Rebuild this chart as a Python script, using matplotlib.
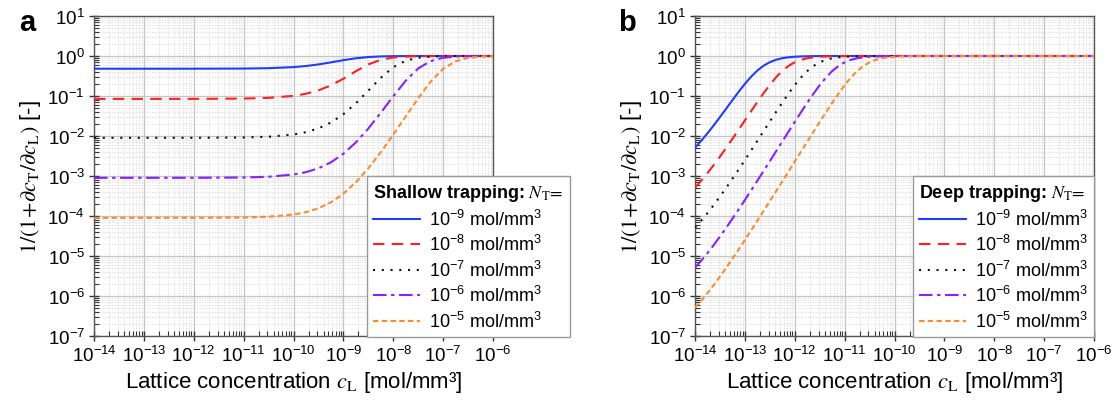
import numpy as np
import matplotlib
matplotlib.use('Agg')
import matplotlib.pyplot as plt
from matplotlib.ticker import LogLocator, NullFormatter

plt.rcParams['font.family'] = ['Liberation Sans', 'DejaVu Sans']
plt.rcParams['mathtext.fontset'] = 'custom'
plt.rcParams['mathtext.rm'] = 'Liberation Sans'
plt.rcParams['mathtext.it'] = 'Liberation Sans:italic'
plt.rcParams['mathtext.bf'] = 'Liberation Sans:bold'
plt.rcParams['mathtext.sf'] = 'Liberation Sans'

# ---------------- data ----------------
nt_labels = [r'10$^{-9}$ mol/mm$^3$', r'10$^{-8}$ mol/mm$^3$', r'10$^{-7}$ mol/mm$^3$',
             r'10$^{-6}$ mol/mm$^3$', r'10$^{-5}$ mol/mm$^3$']

# panel a: shallow trapping, log10(c_L) sample positions
shallow_log_cL = [-14, -13, -12, -11, -10.5, -10, -9.75, -9.5, -9.25, -9, -8.75, -8.5,
                  -8.25, -8, -7.75, -7.5, -7.25, -7, -6.75, -6.5, -6.25, -6]
shallow_nt_1e9 = [0.481, 0.481, 0.4815, 0.4857, 0.496, 0.528, 0.562, 0.616, 0.693, 0.787, 0.877, 0.941,
                  0.976, 0.991, 0.997, 0.999, 1.0, 1.0, 1.0, 1.0, 1.0, 1.0]
shallow_nt_1e8 = [0.0847, 0.0847, 0.0849, 0.0863, 0.0897, 0.1007, 0.1138, 0.1382, 0.1843, 0.270, 0.417, 0.616,
                  0.802, 0.918, 0.970, 0.990, 0.9967, 0.9989, 0.99966, 0.9999, 1.0, 1.0]
shallow_nt_1e7 = [0.00901, 0.00901, 0.00903, 0.00919, 0.00958, 0.0109, 0.01245, 0.0155, 0.0217, 0.0351, 0.0656, 0.136,
                  0.285, 0.524, 0.762, 0.906, 0.967, 0.989, 0.99656, 0.9989, 0.99965, 0.9999]
shallow_nt_1e6 = [0.000900, 0.000900, 0.000902, 0.000918, 0.000958, 0.001089, 0.001248, 0.001558, 0.002194, 0.00359, 0.00691, 0.01536,
                  0.0380, 0.0983, 0.241, 0.489, 0.747, 0.902, 0.966, 0.989, 0.9965, 0.9989]
shallow_nt_1e5 = [9.0e-5, 9.0e-5, 9.02e-5, 9.19e-5, 9.59e-5, 1.090e-4, 1.249e-4, 1.560e-4, 2.198e-4, 3.602e-4, 6.95e-4, 1.558e-3,
                  3.93e-3, 0.01078, 0.0308, 0.0875, 0.228, 0.479, 0.742, 0.901, 0.966, 0.989]

# panel b: deep trapping, log10(c_L) sample positions
deep_log_cL = [-14, -13.875, -13.75, -13.625, -13.5, -13.375, -13.25, -13.125, -13, -12.875, -12.75, -12.625,
               -12.5, -12.375, -12.25, -12.125, -12, -11.875, -11.75, -11.625, -11.5, -11.375, -11.25, -11.125,
               -11, -10.875, -10.75, -10.625, -10.5, -10.375, -10.25, -10.125, -10, -9.875, -9.75, -9.625,
               -9.5, -9, -8, -7, -6]
deep_nt_1e9 = [0.00510, 0.00760, 0.01169, 0.01844, 0.02965, 0.0482, 0.0787, 0.1272, 0.2007, 0.3036, 0.4323, 0.5718,
               0.7015, 0.8057, 0.880, 0.9285, 0.9583, 0.9761, 0.9864, 0.99229, 0.99564, 0.99754, 0.99862, 0.99922,
               0.99956, 0.99975, 0.99986, 0.99992, 0.99996, 1.0, 1.0, 1.0, 1.0, 1.0, 1.0, 1.0,
               1.0, 1.0, 1.0, 1.0, 1.0]
deep_nt_1e8 = [0.000512, 0.000765, 0.001181, 0.001875, 0.003046, 0.005043, 0.00847, 0.01437, 0.0245, 0.04177, 0.0708, 0.1178,
               0.1903, 0.2932, 0.4232, 0.565, 0.697, 0.8032, 0.8787, 0.9279, 0.9581, 0.9760, 0.98634, 0.99227,
               0.99563, 0.99754, 0.99861, 0.99922, 0.99956, 0.99975, 0.99986, 0.99992, 0.99996, 0.99998, 0.99999, 1.0,
               1.0, 1.0, 1.0, 1.0, 1.0]
deep_nt_1e7 = [5.125e-5, 7.659e-5, 1.183e-4, 1.878e-4, 3.054e-4, 5.066e-4, 8.533e-4, 0.001456, 0.002505, 0.00434, 0.00756, 0.01318,
               0.02297, 0.03982, 0.0684, 0.1149, 0.187, 0.2899, 0.420, 0.5627, 0.6957, 0.8024, 0.8784, 0.9277,
               0.958, 0.9759, 0.98632, 0.99226, 0.99563, 0.99754, 0.99861, 0.99922, 0.99956, 0.99975, 0.99986, 0.99992,
               0.99996, 1.0, 1.0, 1.0, 1.0]
deep_nt_1e6 = [5.125e-6, 7.659e-6, 1.183e-5, 1.878e-5, 3.055e-5, 5.068e-5, 8.541e-5, 1.458e-4, 2.511e-4, 4.357e-4, 7.61e-4, 0.001334,
               0.002345, 0.00413, 0.00728, 0.01282, 0.0225, 0.03922, 0.0676, 0.1140, 0.186, 0.2888, 0.4193, 0.562,
               0.6951, 0.8021, 0.8782, 0.9276, 0.958, 0.9759, 0.98631, 0.99226, 0.99563, 0.99754, 0.99861, 0.99922,
               0.99956, 0.99996, 1.0, 1.0, 1.0]
deep_nt_1e5 = [5.125e-7, 7.659e-7, 1.183e-6, 1.878e-6, 3.055e-6, 5.068e-6, 8.542e-6, 1.458e-5, 2.511e-5, 4.360e-5, 7.613e-5, 1.335e-4,
               2.350e-4, 4.146e-4, 7.331e-4, 0.001297, 0.002296, 0.004065, 0.007194, 0.0127, 0.02235, 0.03902, 0.0673, 0.1137,
               0.1857, 0.2884, 0.4189, 0.5617, 0.695, 0.8021, 0.878, 0.9276, 0.958, 0.9759, 0.9863, 0.99226,
               0.99563, 0.99956, 1.0, 1.0, 1.0]

# ---------------- styles ----------------
colors = ['#1f3cff', '#ff1f1f', '#111111', '#8a1fff', '#ff8a2a']
styles = ['-', (0, (5.5, 3.5)), (0, (1.0, 3.2)), (0, (6.5, 2.2, 1.6, 2.2)), (0, (2.6, 1.6))]
lw = 1.5

fig = plt.figure(figsize=(11.15, 4.06), dpi=100)
W, H = 1115.0, 406.0
ax_a = fig.add_axes([94 / W, 1 - 337 / H, 399 / W, 320 / H])
ax_b = fig.add_axes([695 / W, 1 - 337 / H, 399 / W, 320 / H])

panels = [
    (ax_a, shallow_log_cL, [shallow_nt_1e9, shallow_nt_1e8, shallow_nt_1e7, shallow_nt_1e6, shallow_nt_1e5],
     'Shallow trapping: ', 367),
    (ax_b, deep_log_cL, [deep_nt_1e9, deep_nt_1e8, deep_nt_1e7, deep_nt_1e6, deep_nt_1e5],
     'Deep trapping: ', 913),
]

for ax, xs_log, series, title, leg_left in panels:
    x = 10.0 ** np.array(xs_log)
    for ys, c, ls, lab in zip(series, colors, styles, nt_labels):
        ax.plot(x, ys, color=c, linestyle=ls, lw=lw, label=lab, zorder=3)
    ax.set_xscale('log')
    ax.set_yscale('log')
    ax.set_xlim(1e-14, 1e-6)
    ax.set_ylim(1e-7, 1e1)
    ax.xaxis.set_major_locator(LogLocator(base=10, numticks=20))
    ax.yaxis.set_major_locator(LogLocator(base=10, numticks=20))
    ax.xaxis.set_minor_locator(LogLocator(base=10, subs=np.arange(2, 10), numticks=20))
    ax.yaxis.set_minor_locator(LogLocator(base=10, subs=np.arange(2, 10), numticks=20))
    ax.xaxis.set_minor_formatter(NullFormatter())
    ax.yaxis.set_minor_formatter(NullFormatter())
    ax.grid(which='major', color='#c4c4c4', lw=0.9, zorder=0)
    ax.grid(which='minor', color='#dadada', lw=0.6, ls=(0, (1.5, 1.5)), zorder=0)
    ax.set_axisbelow(True)
    ax.tick_params(which='major', direction='inout', length=7, width=1.0, color='#333333',
                   labelsize=13.5, top=False, right=False, pad=3)
    ax.tick_params(which='minor', direction='in', length=3.5, width=0.8, color='#333333',
                   top=False, right=False)
    for s in ax.spines.values():
        s.set_color('#555555')
        s.set_linewidth(1.0)
    ax.set_xlabel(r'Lattice concentration $c_{\rm L}$ [mol/mm³]', fontsize=16,
                  math_fontfamily='stix', labelpad=3)
    ax.set_ylabel(r'$1/(1\!+\!\partial c_{\rm T}/\partial c_{\rm L})$ [-]', fontsize=16,
                  math_fontfamily='stix', labelpad=3)
    leg = ax.legend(loc='upper left', bbox_to_anchor=(leg_left / W, 1 - 177 / H),
                    bbox_transform=fig.transFigure, borderaxespad=0,
                    title=title + r'$N_{\rm T}\!=$', alignment='left',
                    title_fontproperties={'weight': 'bold', 'size': 13}, fontsize=13,
                    handlelength=2.6, handletextpad=0.5, labelspacing=0.3,
                    borderpad=0.35, fancybox=False, framealpha=1.0, edgecolor='#9a9a9a')
    leg.get_title().set_math_fontfamily('stix')
    leg.get_frame().set_linewidth(1.0)
    leg.set_zorder(10)

fig.text(19 / W, 1 - 31 / H, 'a', fontsize=21, fontweight='bold', va='baseline')
fig.text(618 / W, 1 - 31 / H, 'b', fontsize=21, fontweight='bold', va='baseline')

fig.savefig('out.png', dpi=100)
